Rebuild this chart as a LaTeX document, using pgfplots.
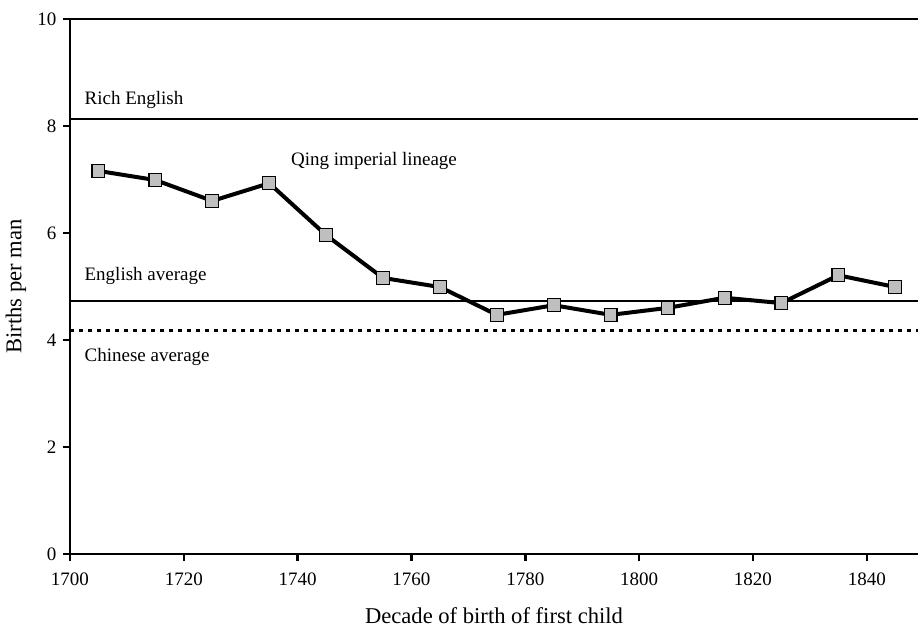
\documentclass[border=0pt]{standalone}
\usepackage{fontspec}
\setmainfont{Liberation Serif}
\usepackage{pgfplots}
\pgfplotsset{compat=1.18}
\begin{document}
\fontsize{9.5pt}{11pt}\selectfont
\begin{tikzpicture}
\begin{axis}[
  name=ax,
  scale only axis,
  width=424pt, height=267.5pt,
  xmin=1700, xmax=1849, ymin=0, ymax=10,
  axis lines*=left,
  axis line style={line width=1.4pt},
  xtick={1700,1720,...,1840},
  ytick={0,2,...,10},
  tick style={line width=1.2pt, black},
  tick align=outside,
  major tick length=3.5pt,
  /pgf/number format/assume math mode=true,
  /pgf/number format/1000 sep={},
  xticklabel style={font=\fontsize{9.5pt}{11pt}\selectfont, yshift=-2.5pt},
  yticklabel style={font=\fontsize{9.5pt}{11pt}\selectfont},
  xlabel={Decade of birth of first child},
  ylabel={Births per man},
  xlabel style={font=\fontsize{11.3pt}{13pt}\selectfont, yshift=-4.5pt},
  ylabel style={font=\fontsize{11.3pt}{13pt}\selectfont, yshift=-1pt},
  clip=false,
]
\addplot[line width=1pt, black] coordinates {(1700,10) (1849,10)};
\addplot[line width=0.8pt, black] coordinates {(1700,8.13) (1849,8.13)};
\addplot[line width=0.8pt, black] coordinates {(1700,4.73) (1849,4.73)};
\addplot[line width=1.5pt, black, dash pattern=on 2.2pt off 2.3pt] coordinates {(1700,4.17) (1849,4.17)};
\addplot[line width=2pt, black, mark=square*, mark size=3.2pt,
  mark options={fill=black!25, draw=black, line width=0.6pt}] coordinates {
  (1705,7.16) (1715,6.99) (1725,6.60) (1735,6.93) (1745,5.96)
  (1755,5.16) (1765,4.99) (1775,4.47) (1785,4.65) (1795,4.47)
  (1805,4.60) (1815,4.79) (1825,4.69) (1835,5.21) (1845,4.99)};
\node[anchor=west, inner sep=0pt] at (axis cs:1702.5,8.49) {Rich English};
\node[anchor=west, inner sep=0pt] at (axis cs:1738.8,7.35) {Qing imperial lineage};
\node[anchor=west, inner sep=0pt] at (axis cs:1702.5,5.20) {English average};
\node[anchor=west, inner sep=0pt] at (axis cs:1702.5,3.68) {Chinese average};
\end{axis}
\pgfresetboundingbox
\path (ax.south west) ++(-35pt,-37pt) coordinate (bl);
\path (ax.north east) ++(0pt,9.5pt) coordinate (tr);
\path (bl) rectangle (tr);
\end{tikzpicture}
\end{document}
